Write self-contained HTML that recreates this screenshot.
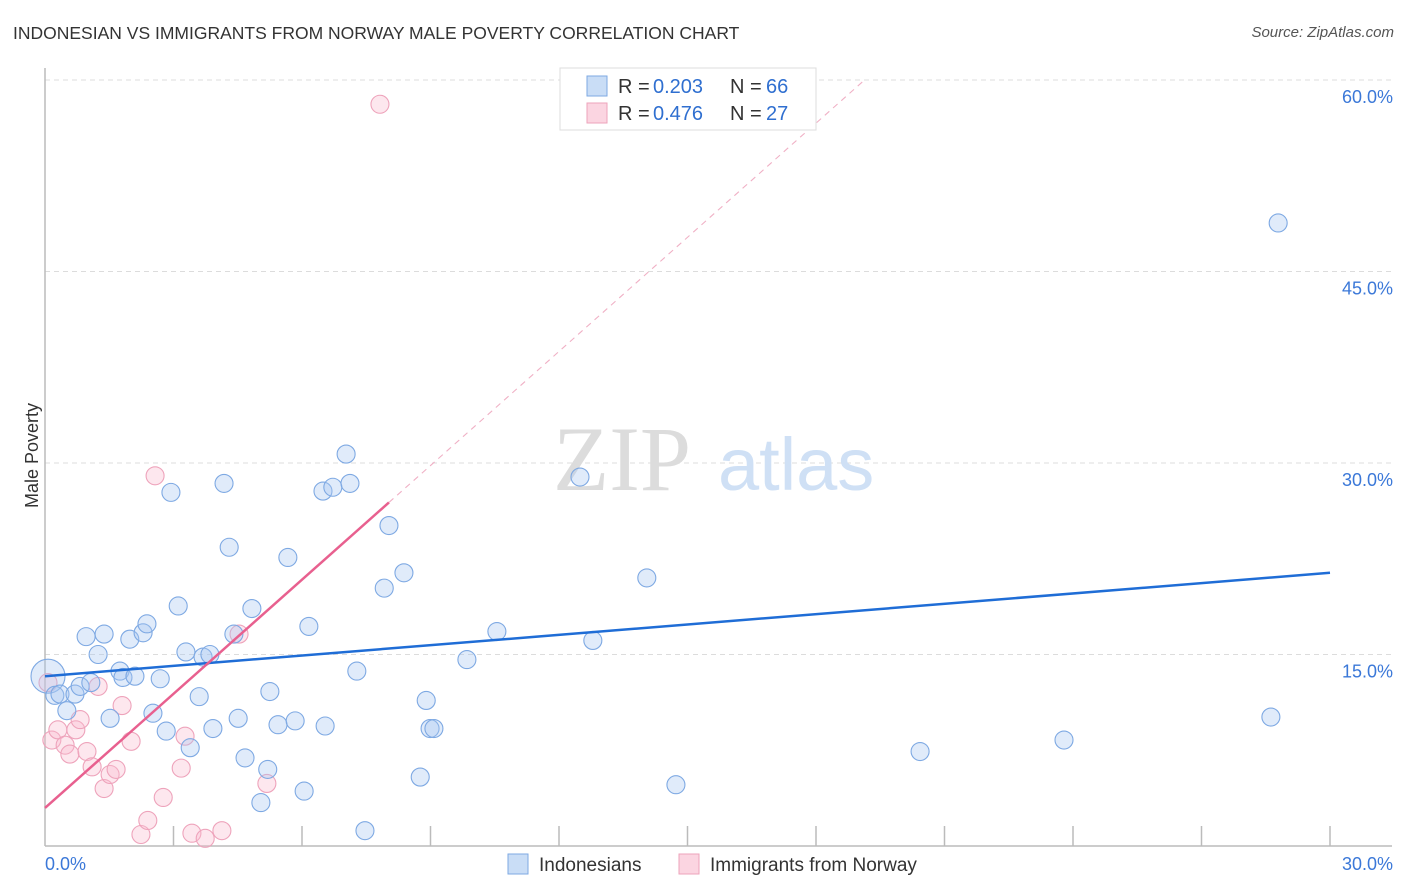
<!DOCTYPE html>
<html><head><meta charset="utf-8">
<style>
body{margin:0;background:#fff;font-family:"Liberation Sans",sans-serif;}
#wrap{position:relative;width:1406px;height:892px;overflow:hidden;}
.t{position:absolute;white-space:nowrap;}
</style></head><body>
<div id="wrap">
<div class="t" style="left:13px;top:23px;font-size:17.5px;color:#333;">INDONESIAN VS IMMIGRANTS FROM NORWAY MALE POVERTY CORRELATION CHART</div>
<div class="t" style="right:12px;top:24px;font-size:15px;color:#555;font-style:italic;">Source: ZipAtlas.com</div>
<div class="t" style="left:-20px;top:445px;font-size:18px;color:#333;transform:rotate(-90deg);">Male Poverty</div>
<svg id="svg" width="1406" height="892" style="position:absolute;left:0;top:0"></svg>
</div>
<script>
const blueX=[0.07,0.23,0.35,0.51,0.70,0.82,0.96,1.07,1.24,1.38,1.52,1.75,1.82,1.98,2.10,2.29,2.38,2.52,2.69,2.83,2.94,3.11,3.29,3.39,3.60,3.69,3.85,3.92,4.18,4.30,4.51,4.67,4.83,4.41,5.04,5.20,5.25,5.44,5.67,5.84,6.05,6.16,6.49,6.54,6.72,7.03,7.12,7.28,7.47,7.92,8.03,8.38,8.76,8.90,8.99,9.08,9.85,10.55,12.49,12.79,14.05,14.73,20.43,23.79,28.62,28.79];
const blueY=[13.3,11.8,11.9,10.6,11.9,12.5,16.4,12.8,15.0,16.6,10.0,13.7,13.2,16.2,13.3,16.7,17.4,10.4,13.1,9.0,27.7,18.8,15.2,7.7,11.7,14.8,15.0,9.2,28.4,23.4,10.0,6.9,18.6,16.6,3.4,6.0,12.1,9.5,22.6,9.8,4.3,17.2,27.8,9.4,28.1,30.7,28.4,13.7,1.2,20.2,25.1,21.4,5.4,11.4,9.2,9.2,14.6,16.8,28.9,16.1,21.0,4.8,7.4,8.3,10.1,48.8];
const pinkX=[0.07,0.16,0.30,0.47,0.58,0.72,0.82,0.98,1.10,1.24,1.38,1.52,1.66,1.80,2.01,2.24,2.40,2.57,2.76,3.18,3.27,3.43,3.74,4.13,4.53,5.18,7.82];
const pinkY=[12.8,8.3,9.1,7.9,7.2,9.1,9.9,7.4,6.2,12.5,4.5,5.6,6.0,11.0,8.2,0.9,2.0,29.0,3.8,6.1,8.6,1.0,0.6,1.2,16.6,4.9,58.1];
const blueTrend=[13.3,21.4];
const pinkTrend=[2.98,2.98];
const yTicks=[15,30,45,60];
const yTickLabels=["15.0%","30.0%","45.0%","60.0%"];
const xTickLabels=["0.0%","30.0%"];

const X0=45,X1=1330,Y0=846;
const sx=v=>X0+v*(X1-X0)/30;
const sy=v=>Y0-v*191.5/15;
const svg=document.getElementById('svg');
const NS='http://www.w3.org/2000/svg';
function mk(tag,a,parent){const e=document.createElementNS(NS,tag);for(const k in a)e.setAttribute(k,a[k]);(parent||svg).appendChild(e);return e;}

yTicks.forEach((t,i)=>{
  const g=mk('line',{x1:X0,x2:1392,y1:sy(t),y2:sy(t),stroke:'#dcdcdc','stroke-dasharray':'5,4'});
  
  
  const l=mk('text',{x:1393,y:sy(t)+23,'text-anchor':'end','font-size':'18',fill:'#3b78d8','font-family':'Liberation Sans'});
  l.textContent=yTickLabels[i];
  
  
});
let ax=mk('line',{x1:X0,x2:X0,y1:68,y2:Y0,stroke:'#bbb','stroke-width':1.5});


ax=mk('line',{x1:X0,x2:1392,y1:Y0,y2:Y0,stroke:'#bbb','stroke-width':1.5});


for(let i=1;i<=10;i++){
  const tk=mk('line',{x1:sx(i*3),x2:sx(i*3),y1:826,y2:Y0,stroke:'#bbb','stroke-width':1.5});
  
  
}
[[0,'start',45],[30,'end',1393]].forEach((p,i)=>{
  const l=mk('text',{x:p[2],y:870,'text-anchor':p[1],'font-size':'18',fill:'#3b78d8','font-family':'Liberation Sans'});
  l.textContent=xTickLabels[i];
  
  
});
const wm=mk('text',{x:553,y:490,'font-size':'92','font-family':'Liberation Serif',fill:'#dcdcdc'});wm.textContent='ZIP';


const wm2=mk('text',{x:718,y:490,'font-size':'74','font-family':'Liberation Sans',fill:'#cfe0f5'});wm2.textContent='atlas';



function pts(xs,ys,fill,stroke,name){
  xs.forEach((x,i)=>{
    const c=mk('circle',{cx:sx(x),cy:sy(ys[i]),r:(i===0&&name==='blue-point')?17:9,fill:fill,stroke:stroke,'stroke-width':1.1});
    
    
  });
}
pts(pinkX,pinkY,'rgba(248,185,205,0.35)','#eea3bb','pink-point');
pts(blueX,blueY,'rgba(165,198,240,0.35)','#7ea9e3','blue-point');

let tl=mk('line',{x1:sx(0),y1:sy(blueTrend[0]),x2:sx(30),y2:sy(blueTrend[1]),stroke:'#1f6dd6','stroke-width':2.5});


const pe=v=>pinkTrend[0]+pinkTrend[1]*v;
tl=mk('line',{x1:sx(0),y1:sy(pe(0)),x2:sx(8.03),y2:sy(pe(8.03)),stroke:'#e8608f','stroke-width':2.5});


const xe=(60-pinkTrend[0])/pinkTrend[1];
tl=mk('line',{x1:sx(8.03),y1:sy(pe(8.03)),x2:sx(xe),y2:sy(60),stroke:'#f0b0c5','stroke-width':1.1,'stroke-dasharray':'6,5'});



const lg=mk('g',{});


mk('rect',{x:560,y:68,width:256,height:62,fill:'#fff',stroke:'#ddd'},lg);
[[86,'rgba(165,198,240,0.6)','#7ea9e3','0.203','66'],[113,'rgba(248,185,205,0.6)','#eea3bb','0.476','27']].forEach(r=>{
  mk('rect',{x:587,y:r[0]-10,width:20,height:20,fill:r[1],stroke:r[2]},lg);
  [[618,'R =','#333'],[653,r[3],'#2f6fd0'],[730,'N =','#333'],[766,r[4],'#2f6fd0']].forEach(p=>{
    const t=mk('text',{x:p[0],y:r[0]+7,'font-size':'20','font-family':'Liberation Sans',fill:p[2]},lg);
    t.textContent=p[1];
    
    
  });
});
[[508,'rgba(165,198,240,0.6)','#7ea9e3','Indonesians'],[679,'rgba(248,185,205,0.6)','#eea3bb','Immigrants from Norway']].forEach(r=>{
  const s=mk('rect',{x:r[0],y:854,width:20,height:20,fill:r[1],stroke:r[2]});
  
  
  const t=mk('text',{x:r[0]+31,y:871,'font-size':'19','font-family':'Liberation Sans',fill:'#333'});
  t.textContent=r[3];
  
  
});
</script>
</body></html>
